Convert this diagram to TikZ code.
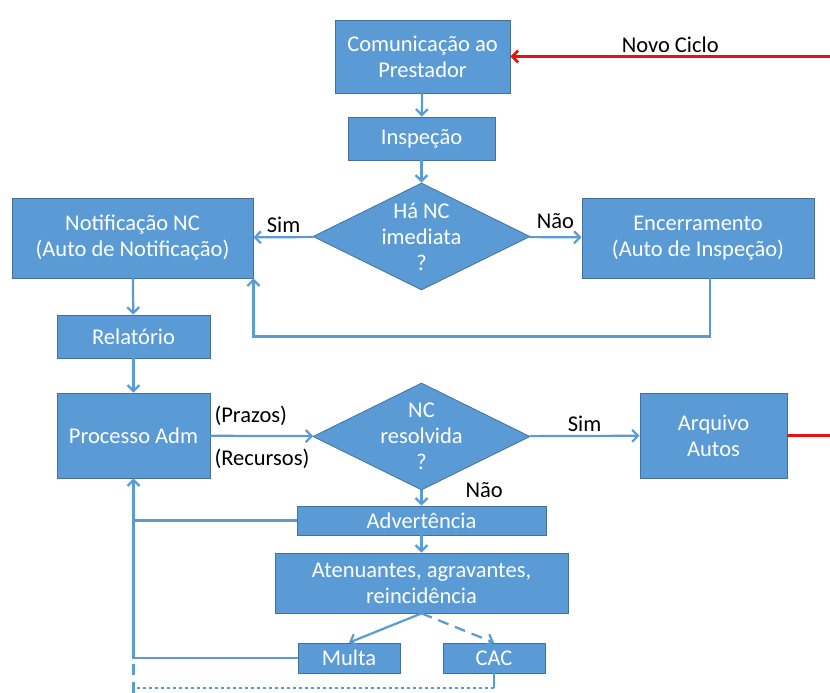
\documentclass[tikz,border=0pt]{standalone}
\usepackage{fontspec}
\setmainfont{Carlito}
\usetikzlibrary{arrows.meta,shapes.geometric}
\definecolor{boxblue}{HTML}{5B9BD5}
\definecolor{boxedge}{HTML}{41719C}
\definecolor{cyclered}{HTML}{E81010}

\begin{document}
\begin{tikzpicture}[x=1pt,y=-1pt,>={Straight Barb[length=6pt,width=12pt]},font=\fontsize{22.5}{26}\selectfont]
	\tikzstyle{block}=[rectangle,fill=boxblue,draw=boxedge,line width=0.8pt,text=white,align=center,inner sep=0pt]
	\tikzstyle{decision}=[diamond,fill=boxblue,draw=boxedge,line width=0.8pt,inner sep=0pt,minimum width=217pt,minimum height=107pt]
	\tikzstyle{qtext}=[text=white,align=center,inner sep=0pt]
	\tikzstyle{link}=[->,draw=boxblue,line width=2.2pt]
	\tikzstyle{cycle}=[->,draw=cyclered,line width=2.6pt]
	\tikzstyle{lbl}=[text=black,inner sep=3pt]
	\tikzstyle{longdash}=[dash pattern=on 11pt off 7pt]
	\useasboundingbox (0,0) rectangle (830,693);

	\node[block,minimum width=175pt,minimum height=73pt] (com) at (422.5,56.5) {Comunicação ao\\Prestador};
	\node[block,minimum width=147pt,minimum height=43pt] (insp) at (421.5,138.5) {Inspeção};
	\node[decision] (hanc) at (421.5,236.5) {};
	\node[qtext] at (hanc) {Há NC\\imediata\\?};
	\node[block,minimum width=241pt,minimum height=80pt] (notif) at (132.5,238) {Notificação NC\\(Auto de Notificação)};
	\node[block,minimum width=232pt,minimum height=80pt] (encer) at (698,238) {Encerramento\\(Auto de Inspeção)};
	\node[block,minimum width=153pt,minimum height=43pt] (rel) at (133.5,336.5) {Relatório};
	\node[block,minimum width=153pt,minimum height=85pt] (proc) at (133.5,435.5) {Processo Adm};
	\node[decision] (ncres) at (421.5,436.5) {};
	\node[qtext] at (ncres) {NC\\resolvida\\?};
	\node[block,minimum width=147pt,minimum height=85pt] (arq) at (713.5,435.5) {Arquivo\\Autos};
	\node[block,minimum width=249pt,minimum height=29pt] (adv) at (421.5,520.5) {Advertência};
	\node[block,minimum width=293pt,minimum height=60pt] (aten) at (421.5,583) {Atenuantes, agravantes,\\reincidência};
	\node[block,minimum width=102pt,minimum height=30pt] (multa) at (349,658) {Multa};
	\node[block,minimum width=102pt,minimum height=30pt] (cac) at (494,658) {CAC};

	\coordinate (novo) at (830,56.5);
	\coordinate (fim) at (830,435.5);
	\coordinate (fundo) at (133.5,688);
	\coordinate (base) at (133.5,693);

	% ciclo
	\draw[cycle] (novo) -- node[lbl,above] {Novo Ciclo} (com);
	\draw[cycle,-] (arq) -- (fim);

	% inspecao
	\draw[link] (com) -- (insp);
	\draw[link] (insp) -- (hanc);
	\draw[link] (hanc) -- node[lbl,above] {Sim} (notif);
	\draw[link] (hanc) -- node[lbl,above,yshift=4pt] {Não} (encer);
	\draw[link] ([xshift=12pt]encer.south) |- (rel -| notif.east) -- (notif.south east);
	\draw[link] (notif) -- (rel);
	\draw[link] (rel) -- (proc);

	% processo
	\draw[link] (proc) -- node[lbl,pos=0,anchor=south west,yshift=6pt] {(Prazos)} node[lbl,pos=0,anchor=north west,yshift=-9pt] {(Recursos)} (ncres);
	\draw[link] (ncres) -- node[lbl,above] {Sim} (arq);
	\draw[link] (ncres) -- node[lbl,pos=0,anchor=west,xshift=40pt] {Não} (adv);
	\draw[link,-] (adv) -- (adv -| proc);
	\draw[link] (adv) -- (aten);
	\draw[link] (aten.south) -- (multa.north);
	\draw[link,longdash] (aten.south) -- (cac.north);
	\draw[link] (multa) -| (proc);
	%\draw[link] (cac) |- (fundo) -- (proc);
	\draw[link,-] (cac) -- (cac |- fundo);
	\draw[link,-,dashed,line width=1.2pt] (cac |- fundo) -- (fundo);
	\draw[link,-,longdash] (base) -- (multa -| proc);
\end{tikzpicture}
\end{document}
